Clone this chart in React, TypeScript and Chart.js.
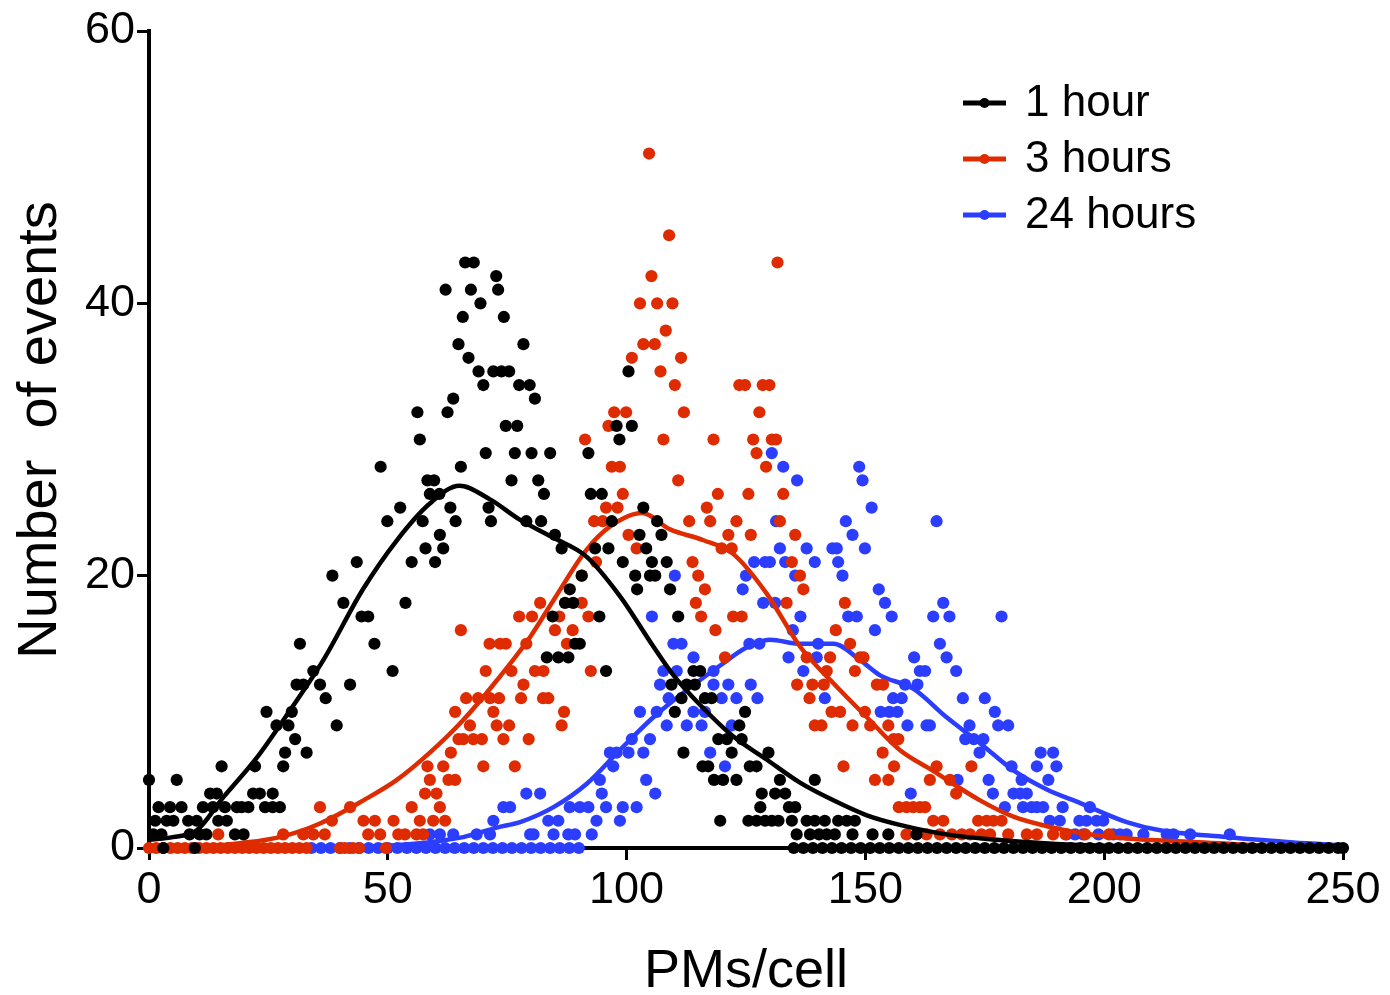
import React, { useEffect, useRef } from "react";
import { Chart, registerables } from "chart.js";

Chart.register(...registerables);

// ---------- DATA ----------
const seriesLabels = ["1 hour", "3 hours", "24 hours"];
const seriesColors = ["#000000", "#DE2B00", "#2B3DFF"];
const xTickValues = [0, 50, 100, 150, 200, 250];
const yTickValues = [0, 20, 40, 60];
const xAxisTitle = "PMs/cell";
const yAxisTitle = "Number  of events";

// scatter points grouped by count level: [count, PMs/cell positions]
const hour1Levels: [number, number[]][] = [
  [0, [3, 9.6]],
  [1, [0.9, 2.6, 8.5, 10.6, 12, 18, 19.8, 135.6, 138.4, 140.3, 141.9, 143.6, 147.3, 151.5, 154.8, 160.7]],
  [2, [1.3, 3.7, 5.1, 8.2, 10, 14.5, 16.3, 119.6, 125.5, 127.2, 129, 130.4, 131.8, 134.6, 137.7, 139.4, 141.5, 144.3, 146.1, 147.8]],
  [3, [2, 4.4, 6.8, 11.3, 13.4, 15.9, 18.4, 19.4, 20.8, 24.3, 25.9, 27.4, 128, 134, 135.3]],
  [4, [12.8, 14.2, 21.8, 23.2, 25.9, 128.3, 131.1, 133.2]],
  [5, [0, 5.8, 118.3, 120.2, 123, 132.1, 139.4]],
  [6, [15.2, 22.2, 28.1, 115.9, 117.1, 125.8, 127.2]],
  [7, [28.5, 33, 111.9, 122, 129.7]],
  [8, [30.6, 119.2, 121, 124.1]],
  [9, [26.7, 29.2, 39.3, 123.6]],
  [10, [24.6, 29.9, 110.1, 124.8]],
  [11, [37, 111.5, 116.4, 117.8]],
  [12, [30.9, 32.3, 35.8, 42.1, 109.4, 112.6, 114.3]],
  [13, [34.4, 51, 95.7, 114, 115.4]],
  [14, [83.3, 85.7, 87.8]],
  [15, [31.6, 47.2, 89.2, 90.2]],
  [17, [44.5, 45.9, 84.5, 94.3, 110.8]],
  [18, [40.7, 53.7, 87.1, 88.8]],
  [19, [88.1, 102.2, 109.1]],
  [20, [38.4, 90.6, 101.8, 104.9, 106]],
  [21, [43.5, 55, 59.9, 99.2, 105.3, 108.4]],
  [22, [57.9, 61.6, 86.4, 93.4, 96.2, 104.1]],
  [23, [60.9, 85, 102.7, 107.3]],
  [24, [49.9, 57.3, 64.2, 71.6, 79, 82.1, 96.9, 106.4]],
  [25, [52.6, 63.1, 71.1, 103.5]],
  [26, [58.8, 60.8, 82.7, 92.5, 94.8]],
  [27, [58.3, 59.7, 75.9, 81.5]],
  [28, [48.5, 65.3]],
  [29, [70.5, 76.6, 80.1, 84, 92]],
  [30, [56.7, 98.5]],
  [31, [74.7, 77.1, 97.9, 101.1]],
  [32, [56.2, 62.5]],
  [33, [63.7, 80.8]],
  [34, [70, 77.5, 79.7]],
  [35, [69, 72.1, 73.8, 75.4, 100.4]],
  [36, [66.9]],
  [37, [64.8, 78.4]],
  [39, [65.7, 74.3]],
  [40, [69.4]],
  [41, [62.1, 67.4, 73.1]],
  [42, [72.7]],
  [43, [66.2, 68]],
];
const hour1ZeroX = [
  135, 137, 139, 141, 143, 145, 147, 149, 151, 153, 155, 157, 159, 161, 163, 165, 167, 169, 171, 173,
  175, 177, 179, 181, 183, 185, 187, 189, 191, 193, 195, 197, 199, 201, 203, 205, 207, 209, 211, 213,
  215, 217, 219, 221, 223, 225, 227, 229, 231, 233, 235, 237, 239, 241, 243, 245, 247, 249, 250,
];

const hour3Levels: [number, number[]][] = [
  [0, [40, 41, 42.7, 44, 49.6]],
  [1, [14.5, 28.1, 32.3, 34.4, 36.8, 45.9, 48.4, 52.2, 53.6, 56, 57.4, 158.6, 162.8, 165.6, 168.1, 170.2, 171.9, 174.3, 176.1, 179.9, 183.8, 185.9, 189.3, 191.9, 196, 201]],
  [2, [38.3, 44.9, 47.3, 51.2, 56.7, 59.5, 62, 164.2, 166.3, 173.6, 175.4, 176.8, 178.5]],
  [3, [35.8, 42.1, 55, 60.9, 157, 158.6, 160, 161.4, 162.5]],
  [4, [57.8, 60.2, 169]],
  [5, [58.8, 62.7, 64.1, 152, 154.8, 163.5, 167.7]],
  [6, [58.3, 61.6, 70, 76.6, 145.4, 156, 164.9, 172.2]],
  [7, [63.2, 153.6]],
  [8, [64.8, 65.8, 67.9, 69.7, 74.2, 79.5, 155.9, 156.9]],
  [9, [67.2, 72.8, 75.4, 86.4, 139.4, 140.8, 147.3, 151, 154.8]],
  [10, [64.1, 72.1, 86.9, 142.9, 144.7, 149.9]],
  [11, [66.4, 68.9, 71.4, 73.3, 77.9, 82.5, 83.6, 138.3]],
  [12, [78.4, 135.7, 138.9, 141.3, 152.4, 153.7]],
  [13, [70.5, 75.9, 80.8, 82.6, 92.5, 141.9, 147.8]],
  [14, [120.6, 137.7, 142.6, 148.9, 149.6]],
  [15, [71.3, 73.5, 74.7, 79, 87.5, 146.8]],
  [16, [65.3, 85, 88.7, 118.6, 143.8]],
  [17, [77.5, 80.2, 85.9, 92, 115.6, 122.3, 124.1]],
  [18, [81.9, 90.6, 114.5, 133.5, 145.7]],
  [19, [116.4, 137]],
  [20, [90.6, 115, 136.3]],
  [21, [93.6, 113.8, 134.6]],
  [22, [102.1, 119.9, 122]],
  [23, [100.4, 121.3, 126, 135.3]],
  [24, [93.2, 95, 113.1, 117.5, 123, 132.1]],
  [25, [95.7, 98.1, 116.8]],
  [26, [99.2, 119.1, 125.5, 132.8]],
  [27, [110.8]],
  [28, [96.9, 98.6, 129.2]],
  [29, [127.2]],
  [30, [91.3, 107.7, 118.2, 126.5, 130.4, 131.3]],
  [31, [96.2]],
  [32, [97.4, 99.9, 112, 127.8]],
  [34, [110.1, 123.6, 124.8, 128.5, 129.9]],
  [35, [107.1]],
  [36, [101.1, 111.4]],
  [37, [103.5, 105.9]],
  [38, [108.2]],
  [40, [102.8, 106.4, 109.6]],
  [42, [105.2]],
  [43, [131.6]],
  [45, [108.9]],
  [51, [104.7]],
];
const hour3ZeroX = [0, 1.5, 3, 4.5, 6, 7.5, 9, 10.5, 12, 13.5, 15, 16.5, 18, 19.5, 21, 22.5, 24, 25.5, 27, 28.5, 30, 31.5, 33];

const hour24Levels: [number, number[]][] = [
  [1, [58.8, 60.9, 63.7, 68.6, 71.4, 79.8, 80.5, 84.7, 87.8, 89.2, 92.7, 192.1, 193.9, 195.6, 198.8, 201.9, 203.3, 204.7, 208.2, 213.1, 214.5, 218, 226.3]],
  [2, [72.1, 83.6, 85.7, 93.7, 98.6, 188.6, 190.7, 194.8, 196.3, 198.4, 199.8]],
  [3, [74.2, 75.6, 88.1, 90.2, 92, 95.7, 99.2, 102.1, 179.2, 183, 184.8, 185.9, 187.2, 191.3, 197]],
  [4, [79, 81.9, 94.8, 106, 159.5, 176.7, 181, 182.4, 183.8]],
  [5, [94.4, 104.1, 169.3, 175.8, 182.7, 188.3]],
  [6, [97.2, 120.6, 180.6, 185.9, 190]],
  [7, [96.5, 97.9, 100.4, 103.5, 117.5, 173.9, 186.7, 189.3]],
  [8, [101.1, 104.9, 170.9, 172.7, 174.7]],
  [9, [108.4, 112.6, 115.7, 122, 158.8, 162.8, 163.5, 171.8, 177.8, 179.9]],
  [10, [102.8, 106.3, 114, 116.4, 153.2, 155, 156.7, 177.1]],
  [11, [108.8, 119.9, 123, 127.4, 141.5, 155.8, 157.6, 170.4, 175]],
  [12, [107, 118.2, 121.3, 126, 158.3, 160.9]],
  [13, [107.7, 110.5, 118.2, 137, 161.4, 162.5, 169]],
  [14, [114, 133.9, 139.8, 160.2, 167]],
  [15, [109.8, 111.5, 125.7, 127.8, 140.1, 165.6]],
  [16, [134.8, 152]],
  [17, [105.3, 136.4, 146.4, 148.2, 155.5, 164.2, 167.6, 178.5]],
  [18, [128.6, 131.1, 154.1, 166.3]],
  [19, [124.3, 152.8]],
  [20, [110.1, 125, 135.3, 145.2]],
  [21, [126.7, 129, 130, 133.2, 139.4, 144.3]],
  [22, [132.1, 137.7, 143.1, 144, 149.9]],
  [23, [147.3]],
  [24, [131.3, 145.9, 164.9]],
  [25, [151.3]],
  [27, [135.7, 149.4]],
  [28, [132.8, 148.7]],
  [29, [130.4]],
];
const hour24ZeroX = [34, 36, 38, 40, 42, 44, 46, 48, 50, 52, 54, 56, 58, 60, 62, 64, 66, 68, 70, 72, 74, 76, 78, 80, 82, 84, 86, 88, 90];

// fitted (smoothed) curves
const hour1FitX = [0, 5, 10, 15.5, 22.5, 29.5, 36.5, 44.8, 51.9, 58.8, 65, 71.4, 77.7, 84.6, 91.6, 98.6, 105.6, 110, 115.4, 122.3, 129.3, 136.3, 143.3, 150.3, 157.2, 167, 177.5, 190, 205, 225, 250];
const hour1FitY = [0.6, 0.8, 1.3, 3.7, 6.6, 10.1, 13.8, 19.0, 22.6, 25.3, 26.6, 25.6, 24.1, 22.8, 21.4, 18.5, 14.8, 12.6, 10.5, 8.2, 6.5, 4.8, 3.5, 2.4, 1.7, 1.0, 0.6, 0.3, 0.12, 0.04, 0];
const hour3FitX = [0, 10, 19, 27.4, 35.8, 44.9, 51.9, 58.8, 65.8, 72.8, 79.8, 84.7, 91.6, 96.5, 103.2, 109.1, 116.1, 122.3, 129.3, 136.3, 143.3, 150.3, 157.2, 164, 174, 181, 188, 195, 204.7, 218.6, 235, 250];
const hour3FitY = [0, 0.05, 0.35, 0.8, 1.8, 3.5, 5, 7, 9.4, 12.3, 15.5, 18.2, 21.9, 23.6, 24.6, 23.4, 22.6, 21.6, 18.7, 14.8, 12.1, 9.6, 7.2, 5.7, 3.5, 2.3, 1.6, 1.1, 0.7, 0.45, 0.15, 0.05];
const hour24FitX = [0, 40, 55, 65.8, 72.8, 77.7, 84.7, 91.6, 98.6, 105.6, 112.6, 119.6, 125, 130, 136.3, 143.3, 148.9, 153, 160, 167, 174, 181, 188, 195, 204.7, 211.7, 225.6, 239.6, 250];
const hour24FitY = [0, 0.05, 0.3, 0.8, 1.5, 1.9, 3.0, 4.7, 7.2, 9.6, 11.6, 13.4, 14.7, 15.3, 15.0, 15.0, 13.8, 12.7, 11.7, 9.6, 7.7, 5.7, 4.3, 3.3, 1.9, 1.3, 0.8, 0.4, 0.2];

// ---------- helpers ----------
const FONT = "'Liberation Sans', Arial, Helvetica, sans-serif";

function levelsToPoints(levels: [number, number[]][], zeroX: number[]) {
  const pts: { x: number; y: number }[] = [];
  zeroX.forEach((x) => pts.push({ x, y: 0 }));
  levels.forEach(([y, xs]) => xs.forEach((x) => pts.push({ x, y })));
  return pts;
}
function fitToPoints(xs: number[], ys: number[]) {
  return xs.map((x, i) => ({ x, y: ys[i] }));
}

const overlayPlugin = {
  id: "overlay",
  afterDraw(chart: any) {
    const ctx = chart.ctx;
    ctx.save();
    ctx.fillStyle = "#000";
    // y title
    ctx.font = `56px ${FONT}`;
    ctx.textAlign = "center";
    ctx.textBaseline = "alphabetic";
    ctx.save();
    ctx.translate(56, 430);
    ctx.rotate(-Math.PI / 2);
    ctx.fillText(yAxisTitle, 0, 0);
    ctx.restore();
    // x title
    ctx.font = `54px ${FONT}`;
    ctx.fillText(xAxisTitle, 746, 987);
    // legend
    const ys = [103, 159, 215];
    seriesLabels.forEach((label, i) => {
      const y = ys[i];
      ctx.strokeStyle = seriesColors[i];
      ctx.lineWidth = 5;
      ctx.beginPath();
      ctx.moveTo(963, y);
      ctx.lineTo(1006, y);
      ctx.stroke();
      ctx.fillStyle = seriesColors[i];
      ctx.beginPath();
      ctx.arc(984.5, y, 5, 0, Math.PI * 2);
      ctx.fill();
      ctx.fillStyle = "#000";
      ctx.font = `44px ${FONT}`;
      ctx.textAlign = "left";
      ctx.textBaseline = "middle";
      ctx.fillText(label, 1025, y + 1);
    });
    ctx.restore();
  },
};

export default function App() {
  const ref = useRef<HTMLCanvasElement | null>(null);
  useEffect(() => {
    document.body.style.margin = "0";
    if (!ref.current) return;
    const pointSets = [
      levelsToPoints(hour1Levels, hour1ZeroX),
      levelsToPoints(hour3Levels, hour3ZeroX),
      levelsToPoints(hour24Levels, hour24ZeroX),
    ];
    const fits = [
      fitToPoints(hour1FitX, hour1FitY),
      fitToPoints(hour3FitX, hour3FitY),
      fitToPoints(hour24FitX, hour24FitY),
    ];
    const datasets: any[] = [];
    [0, 1, 2].forEach((i) => {
      datasets.push({
        label: seriesLabels[i] + " fit",
        data: fits[i],
        showLine: true,
        borderColor: seriesColors[i],
        borderWidth: 4.5,
        pointRadius: 0,
        cubicInterpolationMode: "monotone",
        clip: false,
        order: i * 2,
      });
      datasets.push({
        label: seriesLabels[i],
        data: pointSets[i],
        showLine: false,
        backgroundColor: seriesColors[i],
        borderWidth: 0,
        pointRadius: 6.1,
        clip: false,
        order: i * 2 + 1,
      });
    });
    const chart = new Chart(ref.current, {
      type: "scatter",
      data: { datasets },
      options: {
        animation: false,
        responsive: false,
        devicePixelRatio: 1,
        layout: { padding: { top: 31, right: 47, left: 0, bottom: 0 } },
        plugins: { legend: { display: false }, tooltip: { enabled: false } },
        scales: {
          x: {
            type: "linear",
            min: 0,
            max: 250,
            afterFit: (s: any) => {
              s.height = 147;
            },
            afterBuildTicks: (s: any) => {
              s.ticks = xTickValues.map((v) => ({ value: v }));
            },
            ticks: {
              color: "#000",
              font: { family: FONT, size: 45 },
              padding: 4,
              maxRotation: 0,
              autoSkip: false,
            },
            grid: { drawOnChartArea: false, drawTicks: true, tickLength: 12, tickWidth: 3, tickColor: "#000" },
            border: { display: true, color: "#000", width: 4 },
          },
          y: {
            type: "linear",
            min: 0,
            max: 60,
            afterFit: (s: any) => {
              s.width = 149;
            },
            afterBuildTicks: (s: any) => {
              s.ticks = yTickValues.map((v) => ({ value: v }));
            },
            ticks: {
              color: "#000",
              font: { family: FONT, size: 45 },
              padding: 2,
              autoSkip: false,
            },
            grid: { drawOnChartArea: false, drawTicks: true, tickLength: 12, tickWidth: 3, tickColor: "#000" },
            border: { display: true, color: "#000", width: 4 },
          },
        },
      },
      plugins: [overlayPlugin],
    });
    return () => chart.destroy();
  }, []);
  return (
    <div style={{ position: "fixed", left: 0, top: 0, width: 1390, height: 995, background: "#fff" }}>
      <canvas ref={ref} width={1390} height={995} style={{ width: 1390, height: 995 }} />
    </div>
  );
}
